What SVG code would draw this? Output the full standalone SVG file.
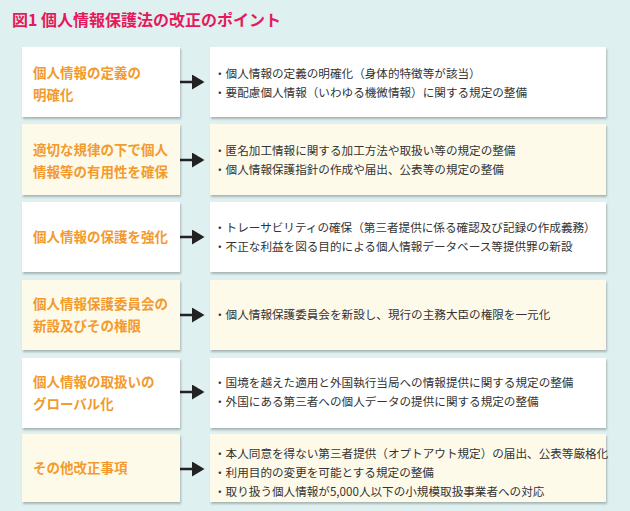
<svg xmlns="http://www.w3.org/2000/svg" width="630" height="511" viewBox="0 0 630 511">
<style>
.t{font-family:"Noto Sans CJK JP","Noto Sans CJK SC",sans-serif}
.h{font-size:13.5px;font-weight:bold;fill:#f39a2e}
.b{font-size:11.6px;fill:#333}
.w{fill:#fff;filter:url(#sh)}
.c{fill:#fefaea;filter:url(#sh)}
.ar{stroke:#222;stroke-width:2.5;marker-end:url(#m)}
</style>
<defs>
<filter id="sh" x="-5%" y="-10%" width="110%" height="130%"><feDropShadow dx="1" dy="2" stdDeviation="1.2" flood-color="#000" flood-opacity="0.25"/></filter>
<marker id="m" markerWidth="6" markerHeight="6" refX="4" refY="3" orient="auto" markerUnits="strokeWidth"><path d="M0,0L5,3L0,6z" fill="#222"/></marker>
</defs>
<rect width="630" height="511" fill="#dff0f0"/>
<text class="t" x="12" y="26" font-size="16" font-weight="bold" fill="#e5195c">図1 個人情報保護法の改正のポイント</text>
<g id="connectors">
<line class="ar" x1="180" y1="82" x2="202" y2="82"/>
<line class="ar" x1="180" y1="160" x2="202" y2="160"/>
<line class="ar" x1="180" y1="237" x2="202" y2="237"/>
<line class="ar" x1="180" y1="315" x2="202" y2="315"/>
<line class="ar" x1="180" y1="392" x2="202" y2="392"/>
<line class="ar" x1="180" y1="469" x2="202" y2="469"/>
</g>
<g id="n1"><rect class="w" x="22" y="47" width="158" height="70"/><text class="t h" x="33" y="78">個人情報の定義の</text><text class="t h" x="33" y="100">明確化</text></g>
<g id="d1"><rect class="w" x="210" y="47" width="396" height="70"/><text class="t b" x="214" y="78">・個人情報の定義の明確化（身体的特徴等が該当）</text><text class="t b" x="214" y="97">・要配慮個人情報（いわゆる機微情報）に関する規定の整備</text></g>
<g id="n2"><rect class="c" x="22" y="124" width="158" height="71"/><text class="t h" x="33" y="155">適切な規律の下で個人</text><text class="t h" x="33" y="177">情報等の有用性を確保</text></g>
<g id="d2"><rect class="c" x="210" y="124" width="396" height="71"/><text class="t b" x="214" y="155">・匿名加工情報に関する加工方法や取扱い等の規定の整備</text><text class="t b" x="214" y="174">・個人情報保護指針の作成や届出、公表等の規定の整備</text></g>
<g id="n3"><rect class="w" x="22" y="202" width="158" height="70"/><text class="t h" x="33" y="242">個人情報の保護を強化</text></g>
<g id="d3"><rect class="w" x="210" y="202" width="396" height="70"/><text class="t b" x="214" y="232">・トレーサビリティの確保（第三者提供に係る確認及び記録の作成義務）</text><text class="t b" x="214" y="251">・不正な利益を図る目的による個人情報データベース等提供罪の新設</text></g>
<g id="n4"><rect class="c" x="22" y="280" width="158" height="70"/><text class="t h" x="33" y="309">個人情報保護委員会の</text><text class="t h" x="33" y="331">新設及びその権限</text></g>
<g id="d4"><rect class="c" x="210" y="280" width="396" height="70"/><text class="t b" x="214" y="319">・個人情報保護委員会を新設し、現行の主務大臣の権限を一元化</text></g>
<g id="n5"><rect class="w" x="22" y="358" width="158" height="70"/><text class="t h" x="33" y="387">個人情報の取扱いの</text><text class="t h" x="33" y="409">グローバル化</text></g>
<g id="d5"><rect class="w" x="210" y="358" width="396" height="70"/><text class="t b" x="214" y="387">・国境を越えた適用と外国執行当局への情報提供に関する規定の整備</text><text class="t b" x="214" y="406">・外国にある第三者への個人データの提供に関する規定の整備</text></g>
<g id="n6"><rect class="c" x="22" y="434" width="158" height="68"/><text class="t h" x="33" y="473">その他改正事項</text></g>
<g id="d6"><rect class="c" x="210" y="434" width="396" height="68"/><text class="t b" x="214" y="458">・本人同意を得ない第三者提供（オプトアウト規定）の届出、公表等厳格化</text><text class="t b" x="214" y="477">・利用目的の変更を可能とする規定の整備</text><text class="t b" x="214" y="496">・取り扱う個人情報が5,000人以下の小規模取扱事業者への対応</text></g>
</svg>
